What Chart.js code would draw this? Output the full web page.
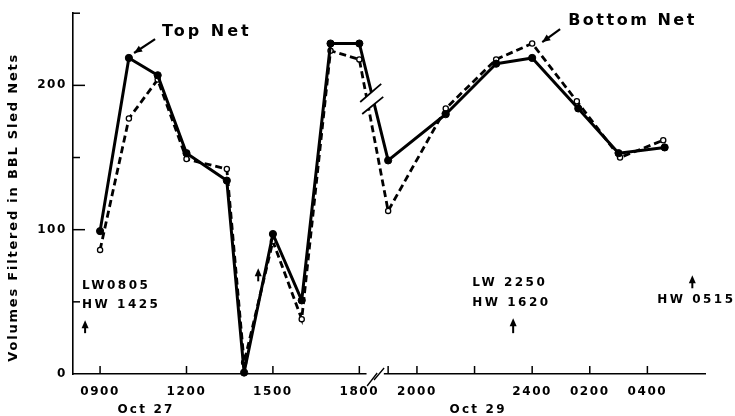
<!DOCTYPE html>
<html><head><meta charset="utf-8">
<script src="https://cdn.jsdelivr.net/npm/chart.js@4/dist/chart.umd.min.js"></script>
<style>html,body{margin:0;padding:0;background:#fff}</style>
</head><body>
<canvas id="c" width="735" height="416" style="display:block;width:735px;height:416px"></canvas>
<script>
// Time positions in hours along the plot axis
// (Oct 27: 9..18; after the break Oct 29: 19..24; Oct 30 early morning: 24 + hour)
const topNetHours      = [9, 10, 11, 12, 13.4, 14, 15, 16, 17, 18, 19, 21, 22.75, 24, 25.6, 27, 28.6];
const topNetVolumes    = [99, 219, 207, 153, 134, 1, 97, 51, 229, 229, 148, 180, 215, 219, 184, 153, 157];
const bottomNetHours   = [9, 10, 11, 12, 13.4, 14, 15, 16, 17, 18, 19, 21, 22.75, 24, 25.55, 27.05, 28.55];
const bottomNetVolumes = [86, 177, 204, 149, 142, 8, 92, 38, 224, 218, 113, 184, 218, 229, 189, 150, 162];

const xTickHours  = [9, 12, 15, 18, 19, 20, 22, 24, 26, 28];
const xTickLabels = ['0900', '1200', '1500', '1800', '', '2000', '', '2400', '0200', '0400'];
const yTickValues = [0, 50, 100, 150, 200, 250];
const yTickLabels = ['0', '', '100', '', '200', ''];
const dateLabels  = ['Oct 27', 'Oct 29'];
const dateHours   = [10.56, 22.09];
const yTitle = 'Volumes Filtered in BBL Sled Nets';
const seriesNames = ['Top Net', 'Bottom Net'];

const FONT = "'DejaVu Sans', sans-serif";

// annotation texts (anchored in data space)
const tideNotes = [
  {lines: ['LW0805', 'HW 1425'], h: 8.375, v: [60.8, 47.7]},
  {lines: ['LW 2250', 'HW 1620'], h: 21.92, v: [62.8, 49]},
  {lines: ['HW 0515'], h: 28.34, v: [51.1]}
];
const tideArrows = [
  {h: 8.48, v0: 28.3, v1: 37.3},
  {h: 14.49, v0: 64.2, v1: 73.2},
  {h: 23.34, v0: 28.3, v1: 38.7},
  {h: 29.56, v0: 59.4, v1: 68.4}
];
const seriesLabels = [
  {text: seriesNames[0], h: 11.15, v: 236.9, spacing: 3, from: [10.91, 232], to: [10.18, 222.4]},
  {text: seriesNames[1], h: 25.25, v: 244.5, spacing: 2.5, from: [24.97, 239], to: [24.35, 230]}
];

function arrowHead(ctx, x0, y0, x1, y1, len, wid) {
  const a = Math.atan2(y1 - y0, x1 - x0);
  ctx.beginPath();
  ctx.moveTo(x1, y1);
  ctx.lineTo(x1 - len * Math.cos(a) + wid * Math.sin(a), y1 - len * Math.sin(a) - wid * Math.cos(a));
  ctx.lineTo(x1 - len * Math.cos(a) - wid * Math.sin(a), y1 - len * Math.sin(a) + wid * Math.cos(a));
  ctx.closePath();
  ctx.fill();
}

const spacingPlugin = {
  id: 'spacing',
  beforeUpdate(chart) { chart.ctx.letterSpacing = '1.6px'; },
  beforeDraw(chart) {
    chart.ctx.letterSpacing = '1.6px';
  }
};

const decorPlugin = {
  id: 'decor',
  afterDraw(chart) {
    const ctx = chart.ctx;
    const xs = chart.scales.x, ys = chart.scales.y;
    const X = h => xs.getPixelForValue(h);
    const Y = v => ys.getPixelForValue(v);
    const axisY = ys.getPixelForValue(0);
    const axisX = xs.getPixelForValue(xs.min);
    ctx.save();
    ctx.fillStyle = '#000';
    ctx.strokeStyle = '#000';

    // inward y ticks
    ctx.lineWidth = 1.5;
    yTickValues.forEach((v, i) => {
      if (v === 0) return;
      const len = yTickLabels[i] ? 12 : 7;
      ctx.beginPath();
      ctx.moveTo(axisX, Y(v));
      ctx.lineTo(axisX + len, Y(v));
      ctx.stroke();
    });
    // inward x ticks
    xTickHours.forEach(h => {
      ctx.beginPath();
      ctx.moveTo(X(h), axisY);
      ctx.lineTo(X(h), axisY - 8);
      ctx.stroke();
    });

    // axis break
    ctx.fillStyle = '#fff';
    ctx.fillRect(X(18.25), axisY - 2, X(18.85) - X(18.25), 4);
    ctx.fillStyle = '#000';
    ctx.lineWidth = 1.3;
    ctx.beginPath();
    ctx.moveTo(X(18.27), axisY + 12); ctx.lineTo(X(18.62), axisY - 1);
    ctx.moveTo(X(18.51), axisY + 6); ctx.lineTo(X(18.86), axisY - 6);
    ctx.stroke();

    // break on the data lines
    ctx.fillStyle = '#fff';
    ctx.beginPath();
    ctx.moveTo(X(18.03), Y(188.5));
    ctx.lineTo(X(18.76), Y(201));
    ctx.lineTo(X(18.83), Y(192));
    ctx.lineTo(X(18.10), Y(180.2));
    ctx.closePath();
    ctx.fill();
    ctx.fillStyle = '#000';
    ctx.lineWidth = 1.8;
    ctx.beginPath();
    ctx.moveTo(X(18.03), Y(188.5)); ctx.lineTo(X(18.76), Y(201));
    ctx.moveTo(X(18.10), Y(180.2)); ctx.lineTo(X(18.83), Y(192));
    ctx.stroke();

    // date labels
    ctx.font = 'bold 12px ' + FONT;
    ctx.letterSpacing = '2.2px';
    ctx.textAlign = 'center';
    ctx.textBaseline = 'middle';
    dateLabels.forEach((t, i) => ctx.fillText(t, X(dateHours[i]) + 1, axisY + 36));

    // tide notes
    ctx.textAlign = 'left';
    ctx.letterSpacing = '2.5px';
    tideNotes.forEach(n => n.lines.forEach((t, i) => ctx.fillText(t, X(n.h), Y(n.v[i]))));
    ctx.lineWidth = 2;
    tideArrows.forEach(a => {
      const x = X(a.h), y0 = Y(a.v0), y1 = Y(a.v1);
      ctx.beginPath(); ctx.moveTo(x, y0); ctx.lineTo(x, y1 + 4); ctx.stroke();
      arrowHead(ctx, x, y0, x, y1, 8, 3.5);
    });

    // series labels with pointer arrows
    ctx.font = 'bold 16px ' + FONT;
    seriesLabels.forEach(s => {
      ctx.letterSpacing = s.spacing + 'px';
      ctx.fillText(s.text, X(s.h), Y(s.v));
      const x0 = X(s.from[0]), y0 = Y(s.from[1]), x1 = X(s.to[0]), y1 = Y(s.to[1]);
      ctx.lineWidth = 2.2;
      ctx.beginPath(); ctx.moveTo(x0, y0); ctx.lineTo(x1, y1); ctx.stroke();
      arrowHead(ctx, x0, y0, x1, y1, 8, 3.5);
    });

    // y axis title
    ctx.font = 'bold 13px ' + FONT;
    ctx.letterSpacing = '1.8px';
    ctx.textAlign = 'center';
    ctx.translate(14, (Y(262) + Y(-31)) / 2);
    ctx.rotate(-Math.PI / 2);
    ctx.fillText(yTitle, 0, 0);
    ctx.restore();
  }
};

new Chart(document.getElementById('c'), {
  type: 'line',
  data: {
    datasets: [
      {
        label: seriesNames[0],
        data: topNetHours.map((h, i) => ({x: h, y: topNetVolumes[i]})),
        borderColor: '#000', borderWidth: 3, borderJoinStyle: 'round',
        pointRadius: 3.6, pointBackgroundColor: '#000', pointBorderColor: '#000', pointBorderWidth: 1,
        tension: 0, clip: false
      },
      {
        label: seriesNames[1],
        data: bottomNetHours.map((h, i) => ({x: h, y: bottomNetVolumes[i]})),
        borderColor: '#000', borderWidth: 2.8, borderDash: [7, 4],
        pointRadius: 2.6, pointBackgroundColor: '#fff', pointBorderColor: '#000', pointBorderWidth: 1.3,
        tension: 0, clip: false
      }
    ]
  },
  options: {
    responsive: false,
    animation: false,
    layout: {padding: {top: 12, right: 30, left: 0, bottom: 0}},
    plugins: {legend: {display: false}, tooltip: {enabled: false}},
    scales: {
      x: {
        type: 'linear', min: 8.06, max: 30,
        grid: {display: false, drawTicks: false},
        border: {display: true, color: '#000', width: 1.6},
        afterBuildTicks: s => { s.ticks = xTickHours.map(v => ({value: v})); },
        afterFit: s => { s.height = 42; },
        ticks: {
          autoSkip: false, maxRotation: 0, color: '#000', padding: 11,
          font: {family: FONT, size: 12, weight: 'bold'},
          callback: v => { const i = xTickHours.indexOf(v); return i >= 0 ? xTickLabels[i] : ''; }
        }
      },
      y: {
        min: 0, max: 250,
        grid: {display: false, drawTicks: false},
        border: {display: true, color: '#000', width: 1.6},
        afterBuildTicks: s => { s.ticks = yTickValues.map(v => ({value: v})); },
        afterFit: s => { s.width = 73; },
        ticks: {
          color: '#000', padding: 6,
          font: {family: FONT, size: 12, weight: 'bold'},
          callback: v => { const i = yTickValues.indexOf(v); return i >= 0 ? yTickLabels[i] : ''; }
        }
      }
    }
  },
  plugins: [spacingPlugin, decorPlugin]
});
</script>
</body></html>
